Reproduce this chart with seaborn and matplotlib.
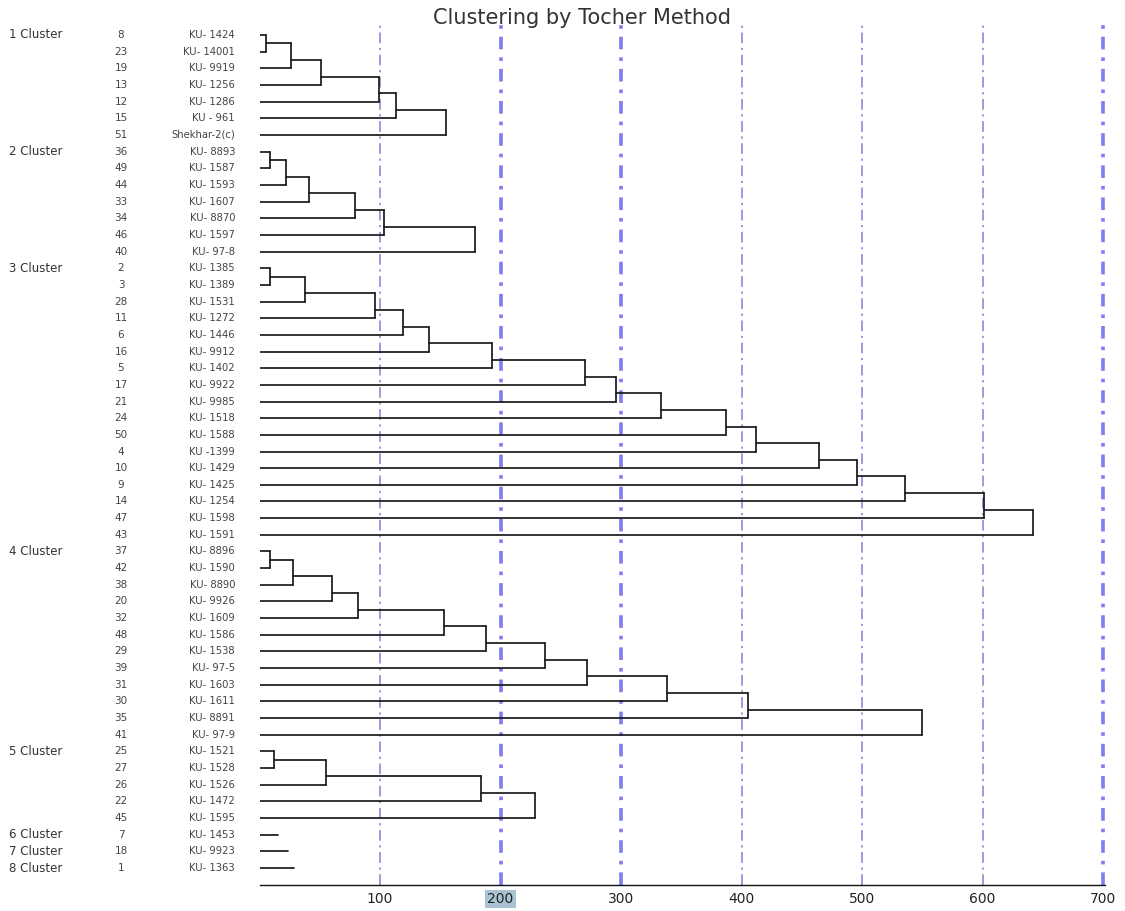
import numpy as np
import pandas as pd
import matplotlib
matplotlib.use("Agg")
import matplotlib.pyplot as plt
import matplotlib.transforms as mtransforms
import seaborn as sns

# -------------------------------
# DATA
# -------------------------------
cluster_names = ["1 Cluster", "2 Cluster", "3 Cluster", "4 Cluster",
                 "5 Cluster", "6 Cluster", "7 Cluster", "8 Cluster"]

c1_nums = [8, 23, 19, 13, 12, 15, 51]
c1_labels = ["KU- 1424", "KU- 14001", "KU- 9919", "KU- 1256", "KU- 1286",
             "KU - 961", "Shekhar-2(c)"]
c1_heights = [5, 26, 51, 99, 113, 155]

c2_nums = [36, 49, 44, 33, 34, 46, 40]
c2_labels = ["KU- 8893", "KU- 1587", "KU- 1593", "KU- 1607", "KU- 8870",
             "KU- 1597", "KU- 97-8"]
c2_heights = [9, 22, 41, 79, 103, 179]

c3_nums = [2, 3, 28, 11, 6, 16, 5, 17, 21, 24, 50, 4, 10, 9, 14, 47, 43]
c3_labels = ["KU- 1385", "KU- 1389", "KU- 1531", "KU- 1272", "KU- 1446",
             "KU- 9912", "KU- 1402", "KU- 9922", "KU- 9985", "KU- 1518",
             "KU- 1588", "KU -1399", "KU- 1429", "KU- 1425", "KU- 1254",
             "KU- 1598", "KU- 1591"]
c3_heights = [9, 38, 96, 119, 141, 193, 270, 296, 333, 387, 412, 464, 496,
              536, 601, 642]

c4_nums = [37, 42, 38, 20, 32, 48, 29, 39, 31, 30, 35, 41]
c4_labels = ["KU- 8896", "KU- 1590", "KU- 8890", "KU- 9926", "KU- 1609",
             "KU- 1586", "KU- 1538", "KU- 97-5", "KU- 1603", "KU- 1611",
             "KU- 8891", "KU- 97-9"]
c4_heights = [9, 28, 60, 82, 153, 188, 237, 272, 338, 405, 550]

c5_nums = [25, 27, 26, 22, 45]
c5_labels = ["KU- 1521", "KU- 1528", "KU- 1526", "KU- 1472", "KU- 1595"]
c5_heights = [12, 55, 184, 229]

c6_nums, c6_labels, c6_heights = [7], ["KU- 1453"], [15]
c7_nums, c7_labels, c7_heights = [18], ["KU- 9923"], [24]
c8_nums, c8_labels, c8_heights = [1], ["KU- 1363"], [29]

clusters = [
    (c1_nums, c1_labels, c1_heights),
    (c2_nums, c2_labels, c2_heights),
    (c3_nums, c3_labels, c3_heights),
    (c4_nums, c4_labels, c4_heights),
    (c5_nums, c5_labels, c5_heights),
    (c6_nums, c6_labels, c6_heights),
    (c7_nums, c7_labels, c7_heights),
    (c8_nums, c8_labels, c8_heights),
]

grid_values = [100, 200, 300, 400, 500, 600, 700]
grid_bold = [200, 300, 700]
tick_labels = ["100", "200", "300", "400", "500", "600", "700"]

# -------------------------------
# BUILD SEGMENTS (chained Tocher-style dendrogram)
# -------------------------------
rows = []
seg = 0
start = 0
for nums, labels, heights in clusters:
    n = len(nums)
    if n == 1:
        rows.append((seg, 0, start)); rows.append((seg, heights[0], start)); seg += 1
    else:
        node_y = start + 0.5
        prev_h = 0
        for k in range(1, n):
            h = heights[k - 1]
            leaf_y = start + k
            top_y = start if k == 1 else node_y
            if k == 1:
                # first leaf
                rows.append((seg, 0, start)); rows.append((seg, h, start)); seg += 1
            else:
                # stem from previous merge
                rows.append((seg, prev_h, node_y)); rows.append((seg, h, node_y)); seg += 1
            # vertical join
            rows.append((seg, h, top_y)); rows.append((seg, h, leaf_y)); seg += 1
            # new leaf
            rows.append((seg, 0, leaf_y)); rows.append((seg, h, leaf_y)); seg += 1
            node_y = start + k - 0.5
            prev_h = h
    start += n

segs = pd.DataFrame(rows, columns=["seg", "x", "y"])

# -------------------------------
# PLOT
# -------------------------------
sns.set_theme(style="white")
plt.rcParams["font.family"] = ["DejaVu Sans"]

fig = plt.figure(figsize=(11.25, 9.11), dpi=100)
ax = fig.add_axes([259.5 / 1125, 26 / 911, 702 * 1.205 / 1125, 860 / 911])

for v in grid_values:
    if v in grid_bold:
        ax.axvline(v, color="#7e7ef0", lw=2.6, linestyle=(0, (3.5, 2.2, 1.0, 2.2)), zorder=1)
    else:
        ax.axvline(v, color="#8080d6", lw=1.1, linestyle=(0, (7, 3, 1.5, 3)), zorder=1)

sns.lineplot(data=segs, x="x", y="y", units="seg", estimator=None, sort=False,
             color="#1a1a1a", lw=1.25, ax=ax, legend=False, zorder=3)

ax.set_xlim(0, 702)
ax.set_ylim(51.02, -0.6)
ax.set_xlabel("")
ax.set_ylabel("")
ax.set_yticks([])
ax.set_xticks(grid_values)
ax.set_xticklabels(tick_labels, fontsize=10, color="#222222")
ax.tick_params(axis="x", length=0, pad=5)
for lab in ax.get_xticklabels():
    if lab.get_text() == "200":
        lab.set_bbox(dict(facecolor="#a9c3d3", edgecolor="none", pad=1.5))

for side in ["top", "left", "right"]:
    ax.spines[side].set_visible(False)
ax.spines["bottom"].set_color("#111111")
ax.spines["bottom"].set_linewidth(1.0)

# left side text columns
trans = mtransforms.blended_transform_factory(fig.transFigure, ax.transData)
row = 0
for cname, (nums, labels, heights) in zip(cluster_names, clusters):
    ax.text(9 / 1125, row, cname, transform=trans, fontsize=8.5, color="#333333",
            ha="left", va="center", clip_on=False)
    for num, lab in zip(nums, labels):
        ax.text(121 / 1125, row, str(num), transform=trans, fontsize=7.5, color="#444444",
                ha="center", va="center", clip_on=False)
        ax.text(235 / 1125, row, lab, transform=trans, fontsize=7.2, color="#444444",
                ha="right", va="center", clip_on=False)
        row += 1

fig.text(582 / 1125, 1 - 18 / 911, "Clustering by Tocher Method", fontsize=15,
         color="#333333", ha="center", va="center")

plt.savefig("out.png", dpi=100)
plt.close()
